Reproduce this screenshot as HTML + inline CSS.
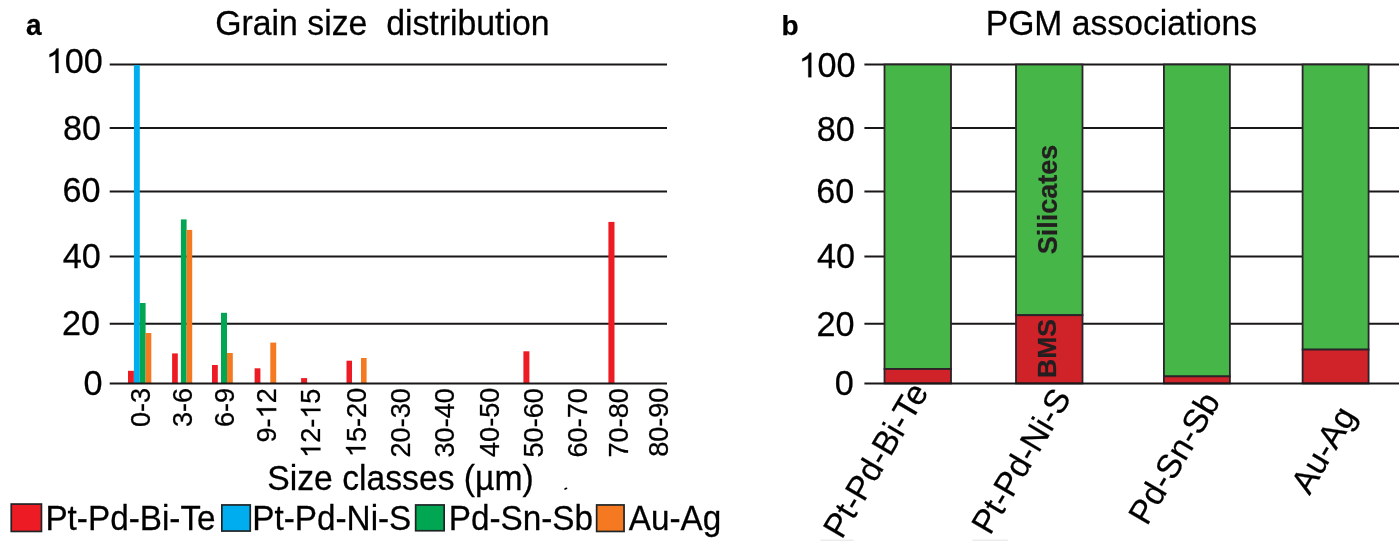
<!DOCTYPE html><html><head><meta charset="utf-8"><style>html,body{margin:0;padding:0;background:#fff;overflow:hidden}svg{display:block;will-change:transform}text{font-family:"Liberation Sans", sans-serif;stroke:currentColor;stroke-width:0.25px}</style></head><body>
<svg width="1400" height="542" viewBox="0 0 1400 542">
<rect width="1400" height="542" fill="#fff"/>
<line x1="109.7" x2="667" y1="64.5" y2="64.5" stroke="#1a1718" stroke-width="2"/>
<line x1="109.7" x2="667" y1="127.9" y2="127.9" stroke="#1a1718" stroke-width="2"/>
<line x1="109.7" x2="667" y1="191.6" y2="191.6" stroke="#1a1718" stroke-width="2"/>
<line x1="109.7" x2="667" y1="256.5" y2="256.5" stroke="#1a1718" stroke-width="2"/>
<line x1="109.7" x2="667" y1="323.8" y2="323.8" stroke="#1a1718" stroke-width="2"/>
<rect x="128.0" y="370.8" width="5.90" height="12.60" fill="#ED1C24"/>
<rect x="133.9" y="65.1" width="5.90" height="318.30" fill="#00AEEF"/>
<rect x="139.8" y="303" width="5.80" height="80.40" fill="#00A651"/>
<rect x="145.6" y="333" width="5.70" height="50.40" fill="#F47920"/>
<rect x="172.1" y="353.4" width="5.70" height="30.00" fill="#ED1C24"/>
<rect x="180.9" y="219.4" width="5.70" height="164.00" fill="#00A651"/>
<rect x="186.6" y="229.9" width="5.60" height="153.50" fill="#F47920"/>
<rect x="212.0" y="365" width="5.80" height="18.40" fill="#ED1C24"/>
<rect x="221.0" y="312.8" width="6.00" height="70.60" fill="#00A651"/>
<rect x="227.0" y="353" width="5.80" height="30.40" fill="#F47920"/>
<rect x="254.6" y="368.3" width="5.80" height="15.10" fill="#ED1C24"/>
<rect x="270.3" y="342.6" width="5.90" height="40.80" fill="#F47920"/>
<rect x="301.1" y="378.1" width="6.00" height="5.30" fill="#ED1C24"/>
<rect x="346.5" y="360.7" width="5.50" height="22.70" fill="#ED1C24"/>
<rect x="361.0" y="358" width="5.60" height="25.40" fill="#F47920"/>
<rect x="523.4" y="351.3" width="6.00" height="32.10" fill="#ED1C24"/>
<rect x="608.4" y="221.9" width="6.10" height="161.50" fill="#ED1C24"/>
<line x1="109.7" x2="667" y1="383.4" y2="383.4" stroke="#1a1718" stroke-width="2"/>
<ellipse cx="565.8" cy="488.6" rx="1.7" ry="1.0" transform="rotate(-20 565.8 488.6)" fill="#000"/>
<rect x="11.25" y="504.05" width="30.20" height="27.40" fill="#ED1C24" stroke="#1f2527" stroke-width="1.7"/>
<rect x="221.85" y="504.95" width="28.40" height="26.10" fill="#00AEEF" stroke="#1f2527" stroke-width="1.7"/>
<rect x="415.65" y="504.95" width="28.50" height="25.80" fill="#00A651" stroke="#1f2527" stroke-width="1.7"/>
<rect x="596.65" y="504.95" width="27.40" height="26.50" fill="#F47920" stroke="#1f2527" stroke-width="1.7"/>
<line x1="864.4" x2="1399" y1="64.5" y2="64.5" stroke="#1a1718" stroke-width="2"/>
<line x1="864.4" x2="1399" y1="127.9" y2="127.9" stroke="#1a1718" stroke-width="2"/>
<line x1="864.4" x2="1399" y1="191.6" y2="191.6" stroke="#1a1718" stroke-width="2"/>
<line x1="864.4" x2="1399" y1="256.5" y2="256.5" stroke="#1a1718" stroke-width="2"/>
<line x1="864.4" x2="1399" y1="323.8" y2="323.8" stroke="#1a1718" stroke-width="2"/>
<rect x="884.5" y="64.5" width="66.5" height="304.5" fill="#46B649" stroke="#2a2329" stroke-width="1.8"/>
<rect x="884.5" y="369" width="66.5" height="14.399999999999977" fill="#D02229" stroke="#2a2329" stroke-width="1.8"/>
<rect x="1016" y="64.5" width="66.5" height="250.7" fill="#46B649" stroke="#2a2329" stroke-width="1.8"/>
<rect x="1016" y="315.2" width="66.5" height="68.19999999999999" fill="#D02229" stroke="#2a2329" stroke-width="1.8"/>
<rect x="1163.9" y="64.5" width="66.0" height="311.9" fill="#46B649" stroke="#2a2329" stroke-width="1.8"/>
<rect x="1163.9" y="376.4" width="66.0" height="7.0" fill="#D02229" stroke="#2a2329" stroke-width="1.8"/>
<rect x="1302.6" y="64.5" width="66.0" height="285.1" fill="#46B649" stroke="#2a2329" stroke-width="1.8"/>
<rect x="1302.6" y="349.6" width="66.0" height="33.799999999999955" fill="#D02229" stroke="#2a2329" stroke-width="1.8"/>
<line x1="864.4" x2="1399" y1="383.4" y2="383.4" stroke="#1a1718" stroke-width="2"/>
<line x1="820.4" x2="853.6" y1="540.3" y2="540.3" stroke="#ececec" stroke-width="1.5"/>
<line x1="972.5" x2="1007.8" y1="540.3" y2="540.3" stroke="#ececec" stroke-width="1.5"/>
<text transform="translate(33.80,24.80) rotate(0) scale(1,1.0700)" x="0" y="9.80" font-size="28.00" font-weight="bold" text-anchor="middle" fill="#000" color="#000">a</text>
<text transform="translate(382.40,23.30) rotate(0) scale(1,1.0300)" x="0" y="11.83" font-size="33.80" text-anchor="middle" fill="#000" color="#000" xml:space="preserve" style="white-space:pre">Grain size  distribution</text>
<g transform="translate(74.30,60.45) rotate(0) scale(1,1.0400)">
<text x="0" y="11.97" font-size="34.20" text-anchor="middle" fill="#000" color="#000"> 00</text>
<path transform="translate(-28.531,11.970) scale(0.01670,-0.01670)" d="M763 0L583 0L583 1102L540 1065L470 1021L390 976L310 940L223 907L223 1074L310 1110L400 1158L490 1216L560 1278L610 1341L646 1409L763 1409Z" fill="#000" stroke="#000" stroke-width="14.97"/>
</g>
<g transform="translate(827.10,64.75) rotate(0) scale(1,1.0400)">
<text x="0" y="11.97" font-size="34.20" text-anchor="middle" fill="#000" color="#000"> 00</text>
<path transform="translate(-28.531,11.970) scale(0.01670,-0.01670)" d="M763 0L583 0L583 1102L540 1065L470 1021L390 976L310 940L223 907L223 1074L310 1110L400 1158L490 1216L560 1278L610 1341L646 1409L763 1409Z" fill="#000" stroke="#000" stroke-width="14.97"/>
</g>
<text transform="translate(81.90,127.45) rotate(0) scale(1,1.0400)" x="0" y="11.97" font-size="34.20" text-anchor="middle" fill="#000" color="#000">80</text>
<text transform="translate(835.75,128.75) rotate(0) scale(1,1.0400)" x="0" y="11.97" font-size="34.20" text-anchor="middle" fill="#000" color="#000">80</text>
<text transform="translate(81.45,190.00) rotate(0) scale(1,1.0400)" x="0" y="11.97" font-size="34.20" text-anchor="middle" fill="#000" color="#000">60</text>
<text transform="translate(835.35,191.00) rotate(0) scale(1,1.0400)" x="0" y="11.97" font-size="34.20" text-anchor="middle" fill="#000" color="#000">60</text>
<text transform="translate(81.65,255.80) rotate(0) scale(1,1.0400)" x="0" y="11.97" font-size="34.20" text-anchor="middle" fill="#000" color="#000">40</text>
<text transform="translate(836.05,255.65) rotate(0) scale(1,1.0400)" x="0" y="11.97" font-size="34.20" text-anchor="middle" fill="#000" color="#000">40</text>
<text transform="translate(80.90,322.70) rotate(0) scale(1,1.0400)" x="0" y="11.97" font-size="34.20" text-anchor="middle" fill="#000" color="#000">20</text>
<text transform="translate(835.45,323.60) rotate(0) scale(1,1.0400)" x="0" y="11.97" font-size="34.20" text-anchor="middle" fill="#000" color="#000">20</text>
<text transform="translate(93.10,382.65) rotate(0) scale(1,1.0400)" x="0" y="11.97" font-size="34.20" text-anchor="middle" fill="#000" color="#000">0</text>
<text transform="translate(844.30,382.10) rotate(0) scale(1,1.0400)" x="0" y="11.97" font-size="34.20" text-anchor="middle" fill="#000" color="#000">0</text>
<text transform="translate(139.70,407.50) rotate(-90) scale(1,1.0500)" x="0" y="9.48" font-size="27.10" text-anchor="middle" fill="#000" color="#000">0-3</text>
<text transform="translate(181.85,407.50) rotate(-90) scale(1,1.0500)" x="0" y="9.48" font-size="27.10" text-anchor="middle" fill="#000" color="#000">3-6</text>
<text transform="translate(223.80,407.45) rotate(-90) scale(1,1.0500)" x="0" y="9.48" font-size="27.10" text-anchor="middle" fill="#000" color="#000">6-9</text>
<g transform="translate(266.25,415.40) rotate(-90) scale(1,1.0500)">
<text x="0" y="9.48" font-size="27.10" text-anchor="middle" fill="#000" color="#000">9- 2</text>
<path transform="translate(-3.024,9.485) scale(0.01323,-0.01323)" d="M763 0L583 0L583 1102L540 1065L470 1021L390 976L310 940L223 907L223 1074L310 1110L400 1158L490 1216L560 1278L610 1341L646 1409L763 1409Z" fill="#000" stroke="#000" stroke-width="18.89"/>
</g>
<g transform="translate(310.45,423.30) rotate(-90) scale(1,1.0500)">
<text x="0" y="9.48" font-size="27.10" text-anchor="middle" fill="#000" color="#000"> 2- 5</text>
<path transform="translate(-34.656,9.485) scale(0.01323,-0.01323)" d="M763 0L583 0L583 1102L540 1065L470 1021L390 976L310 940L223 907L223 1074L310 1110L400 1158L490 1216L560 1278L610 1341L646 1409L763 1409Z" fill="#000" stroke="#000" stroke-width="18.89"/>
<path transform="translate(4.512,9.485) scale(0.01323,-0.01323)" d="M763 0L583 0L583 1102L540 1065L470 1021L390 976L310 940L223 907L223 1074L310 1110L400 1158L490 1216L560 1278L610 1341L646 1409L763 1409Z" fill="#000" stroke="#000" stroke-width="18.89"/>
</g>
<g transform="translate(355.55,422.45) rotate(-90) scale(1,1.0500)">
<text x="0" y="9.48" font-size="27.10" text-anchor="middle" fill="#000" color="#000"> 5-20</text>
<path transform="translate(-34.656,9.485) scale(0.01323,-0.01323)" d="M763 0L583 0L583 1102L540 1065L470 1021L390 976L310 940L223 907L223 1074L310 1110L400 1158L490 1216L560 1278L610 1341L646 1409L763 1409Z" fill="#000" stroke="#000" stroke-width="18.89"/>
</g>
<text transform="translate(399.75,422.85) rotate(-90) scale(1,1.0500)" x="0" y="9.48" font-size="27.10" text-anchor="middle" fill="#000" color="#000">20-30</text>
<text transform="translate(443.90,422.85) rotate(-90) scale(1,1.0500)" x="0" y="9.48" font-size="27.10" text-anchor="middle" fill="#000" color="#000">30-40</text>
<text transform="translate(489.05,422.35) rotate(-90) scale(1,1.0500)" x="0" y="9.48" font-size="27.10" text-anchor="middle" fill="#000" color="#000">40-50</text>
<text transform="translate(532.95,422.85) rotate(-90) scale(1,1.0500)" x="0" y="9.48" font-size="27.10" text-anchor="middle" fill="#000" color="#000">50-60</text>
<text transform="translate(577.20,422.85) rotate(-90) scale(1,1.0500)" x="0" y="9.48" font-size="27.10" text-anchor="middle" fill="#000" color="#000">60-70</text>
<text transform="translate(617.60,422.85) rotate(-90) scale(1,1.0500)" x="0" y="9.48" font-size="27.10" text-anchor="middle" fill="#000" color="#000">70-80</text>
<text transform="translate(657.70,422.25) rotate(-90) scale(1,1.0500)" x="0" y="9.48" font-size="27.10" text-anchor="middle" fill="#000" color="#000">80-90</text>
<text transform="translate(400.50,477.60) rotate(0) scale(1,1.0300)" x="0" y="11.79" font-size="33.70" text-anchor="middle" fill="#000" color="#000">Size classes (µm)</text>
<text transform="translate(130.50,517.40) rotate(0) scale(1,1.0800)" x="0" y="11.65" font-size="33.30" text-anchor="middle" fill="#000" color="#000">Pt-Pd-Bi-Te</text>
<text transform="translate(331.80,517.70) rotate(0) scale(1,1.0800)" x="0" y="11.65" font-size="33.30" text-anchor="middle" fill="#000" color="#000">Pt-Pd-Ni-S</text>
<text transform="translate(520.90,517.40) rotate(0) scale(1,1.0800)" x="0" y="11.65" font-size="33.30" text-anchor="middle" fill="#000" color="#000">Pd-Sn-Sb</text>
<text transform="translate(675.00,517.10) rotate(0) scale(1,1.0800)" x="0" y="11.65" font-size="33.30" text-anchor="middle" fill="#000" color="#000">Au-Ag</text>
<text transform="translate(790.05,24.75) rotate(0) scale(1,1.0000)" x="0" y="9.80" font-size="28.00" font-weight="bold" text-anchor="middle" fill="#000" color="#000">b</text>
<text transform="translate(1121.40,22.90) rotate(0) scale(1,1.0300)" x="0" y="11.79" font-size="33.70" text-anchor="middle" fill="#000" color="#000">PGM associations</text>
<text transform="translate(1047.25,199.55) rotate(-90) scale(1,1.0000)" x="0" y="9.45" font-size="27.00" font-weight="bold" text-anchor="middle" fill="#231F20" color="#231F20">Silicates</text>
<text transform="translate(1046.90,348.50) rotate(-90) scale(1,1.0000)" x="0" y="9.27" font-size="26.50" font-weight="bold" text-anchor="middle" fill="#231F20" color="#231F20">BMS</text>
<text transform="translate(875.35,459.95) rotate(-59.5) scale(1,1.0000)" x="0" y="11.79" font-size="33.70" text-anchor="middle" fill="#000" color="#000">Pt-Pd-Bi-Te</text>
<text transform="translate(1020.80,460.80) rotate(-59.5) scale(1,1.0000)" x="0" y="11.79" font-size="33.70" text-anchor="middle" fill="#000" color="#000">Pt-Pd-Ni-S</text>
<text transform="translate(1173.80,457.95) rotate(-59.5) scale(1,1.0000)" x="0" y="11.79" font-size="33.70" text-anchor="middle" fill="#000" color="#000">Pd-Sn-Sb</text>
<text transform="translate(1323.00,449.60) rotate(-59.5) scale(1,1.0000)" x="0" y="11.79" font-size="33.70" text-anchor="middle" fill="#000" color="#000">Au-Ag</text>
</svg></body></html>
